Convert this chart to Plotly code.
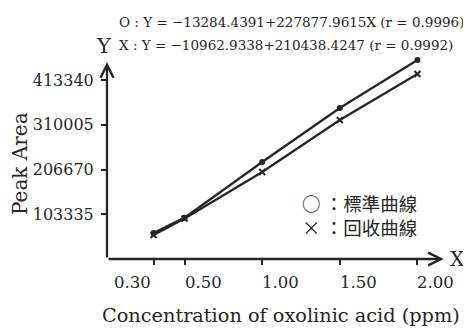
import plotly.graph_objects as go

# ---- data ----
conc = [0.30, 0.50, 1.00, 1.50, 2.00]
standard_area = [60000, 95500, 224000, 348700, 459500]   # O : 標準曲線
recovery_area = [55400, 93500, 200900, 321000, 427200]   # X : 回收曲線
series_names = ["標準曲線", "回收曲線"]
legend_symbols = ["○", "×"]

x_tickvals = [0.30, 0.50, 1.00, 1.50, 2.00]
x_ticktext = ["0.30", "0.50", "1.00", "1.50", "2.00"]
y_tickvals = [103335, 206670, 310005, 413340]
y_ticktext = ["103335", "206670", "310005", "413340"]

eq_lines = ["O : Y = \u221213284.4391+227877.9615X (r = 0.9996)",
            "X : Y = \u221210962.9338+210438.4247 (r = 0.9992)"]

x_title = "Concentration of oxolinic acid (ppm)"
y_title = "Peak Area"

INK = "#262626"
SERIF = "DejaVu Serif"
CJK = "Noto Sans CJK TC"

# page body has an 8px default margin: lay the figure out 8px smaller
OFF = 8
W, H = 471 - OFF, 328 - OFF
L, R, T, B = 107 - OFF, 7, 40 - OFF, 69
PW, PH = W - L - R, H - T - B


def px(xr):
    return (xr - OFF - L) / PW


def py(yr):
    return (H - B - (yr - OFF)) / PH


fig = go.Figure()
fig.add_trace(go.Scatter(x=conc, y=standard_area, mode="lines+markers",
                         name=series_names[0],
                         line=dict(color=INK, width=2.3),
                         marker=dict(symbol="circle", size=6, color=INK),
                         cliponaxis=False))
fig.add_trace(go.Scatter(x=conc, y=recovery_area, mode="lines+markers",
                         name=series_names[1],
                         line=dict(color=INK, width=2.3),
                         marker=dict(symbol="x-thin", size=6,
                                     line=dict(color=INK, width=2)),
                         cliponaxis=False))

XMAX = 2.30
YMAX = 505700
X_TIP = 2.17
Y_TIP = 454900

fig.update_layout(
    width=W, height=H,
    margin=dict(l=L, r=R, t=T, b=B, pad=0),
    paper_bgcolor="white", plot_bgcolor="white",
    showlegend=False,
    font=dict(family=SERIF, color=INK, size=16),
)
fig.update_xaxes(range=[0, XMAX], showgrid=False, zeroline=False, automargin=False,
                 showline=False, tickvals=x_tickvals, ticktext=x_ticktext,
                 showticklabels=False,
                 ticks="outside", ticklen=5, tickwidth=2, tickcolor=INK)
fig.update_yaxes(range=[0, YMAX], showgrid=False, zeroline=False, automargin=False,
                 showline=False, tickvals=y_tickvals, ticktext=y_ticktext,
                 ticks="outside", ticklen=5, tickwidth=2, tickcolor=INK,
                 tickfont=dict(family=SERIF, size=16, color=INK), ticklabelstandoff=4)

ann = []
# axis arrows
ann.append(dict(x=X_TIP, y=0, ax=0, ay=0, xref="x", yref="y", axref="x", ayref="y",
                showarrow=True, arrowhead=5, arrowsize=1.1, arrowwidth=2.3,
                arrowcolor=INK, text=""))
ann.append(dict(x=0, y=Y_TIP, ax=0, ay=0, xref="x", yref="y", axref="x", ayref="y",
                showarrow=True, arrowhead=5, arrowsize=1.1, arrowwidth=2.3,
                arrowcolor=INK, text=""))
# axis letters
ann.append(dict(x=X_TIP, y=0, xref="x", yref="y", text="X", showarrow=False,
                xanchor="left", yanchor="middle", xshift=4,
                font=dict(family=SERIF, size=20, color=INK)))
ann.append(dict(x=0, y=Y_TIP, xref="x", yref="y", text="Y", showarrow=False,
                xanchor="center", yanchor="bottom", yshift=2, xshift=-3,
                font=dict(family=SERIF, size=21, color=INK)))
# x tick labels
for i, (v, t) in enumerate(zip(x_tickvals, x_ticktext)):
    ann.append(dict(x=v, y=0, xref="x", yref="y", text=t, showarrow=False,
                    xanchor="right" if i == 0 else "left", yanchor="top",
                    yshift=-12, xshift=-1 if i == 0 else -2,
                    font=dict(family=SERIF, size=16.5, color=INK)))
# titles
ann.append(dict(x=px(281), y=py(315), xref="paper", yref="paper", text=x_title,
                showarrow=False, xanchor="center", yanchor="middle",
                font=dict(family=SERIF, size=19.3, color=INK)))
ann.append(dict(x=px(20), y=py(164), xref="paper", yref="paper", text=y_title,
                showarrow=False, textangle=-90, xanchor="center", yanchor="middle",
                font=dict(family=SERIF, size=20, color=INK)))
# equations
for i, line in enumerate(eq_lines):
    ann.append(dict(x=px(117), y=py(22 + 23 * i), xref="paper", yref="paper",
                    text=line, showarrow=False, xanchor="left", yanchor="middle",
                    font=dict(family=SERIF, size=13.5, color=INK)))
# legend (one block, two lines)
legend_text = "<br>".join(f"{s} \uff1a{n}" for s, n in zip(legend_symbols, series_names))
ann.append(dict(x=px(300), y=py(214.5), xref="paper", yref="paper",
                text=legend_text, showarrow=False, align="left",
                xanchor="left", yanchor="middle",
                font=dict(family=CJK, size=18.5, color=INK)))
fig.update_layout(annotations=ann)

fig.write_html("out.html")
